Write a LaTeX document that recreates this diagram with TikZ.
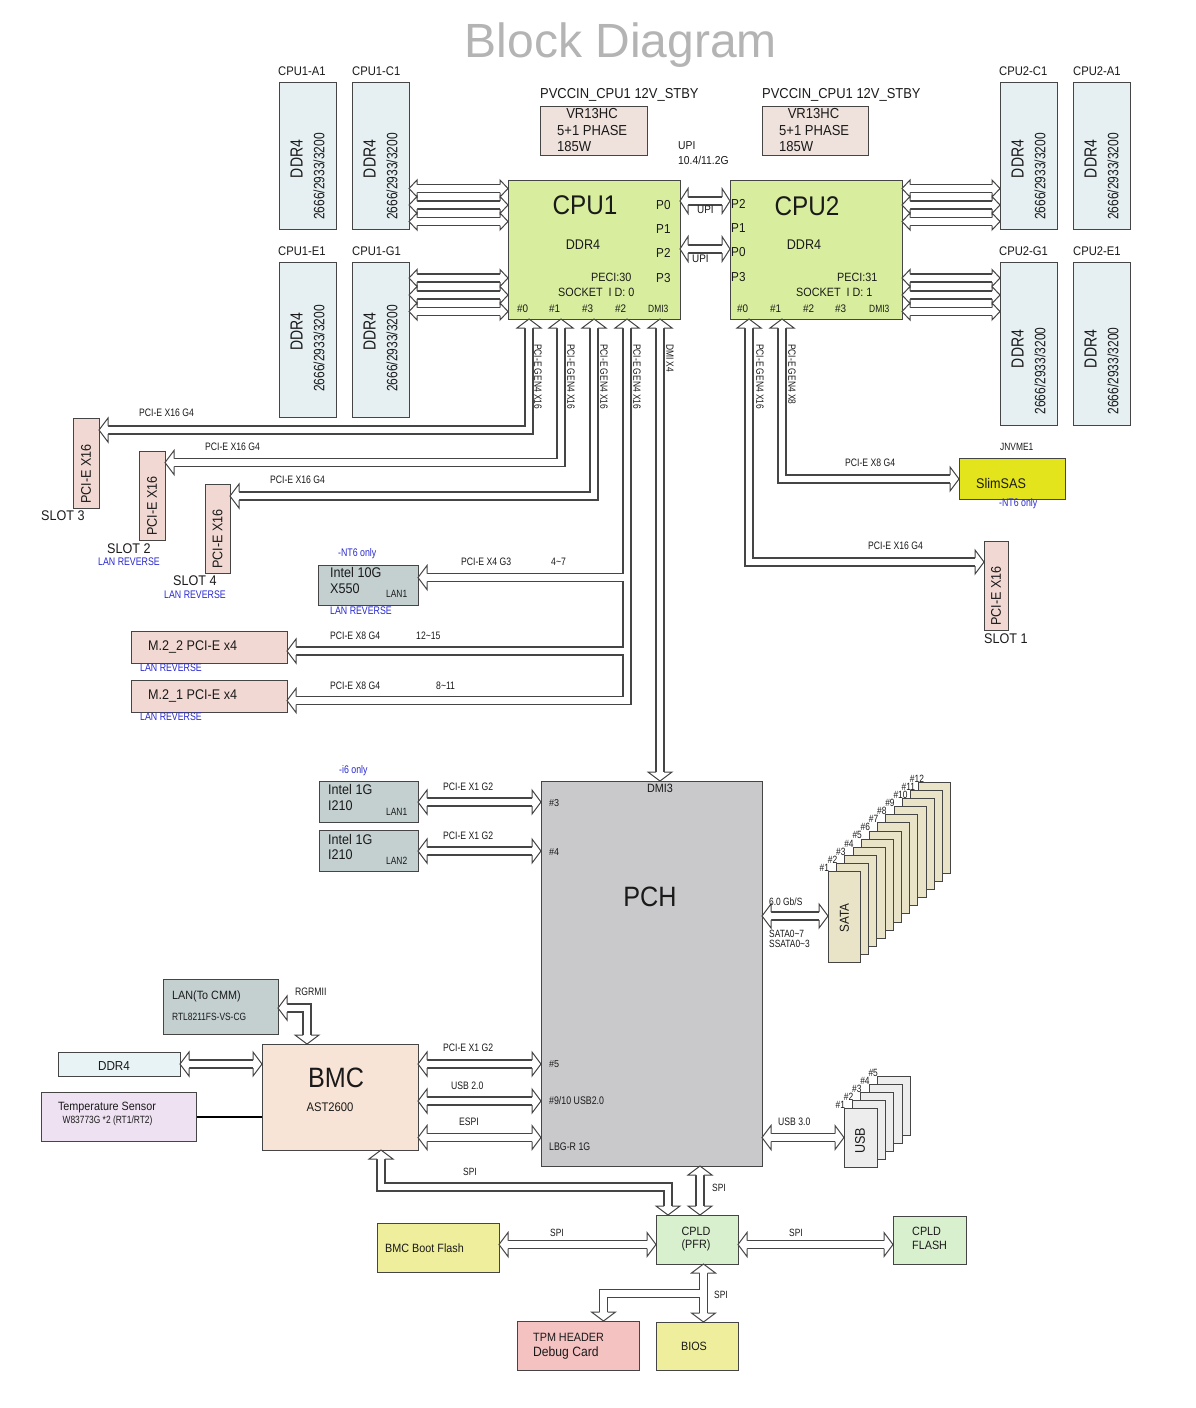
\documentclass[tikz,border=0pt]{standalone}
\usepackage{fontspec}
\setmainfont{Liberation Sans}
\newfontfamily\nf[FakeStretch=0.9]{Liberation Sans}
\newfontfamily\nnf[FakeStretch=0.8]{Liberation Sans}
\newcommand\fs[1]{\fontsize{#1}{#1}\selectfont}
\definecolor{lc}{HTML}{454545}
\definecolor{bc}{HTML}{454545}
\definecolor{tc}{HTML}{1A1A1A}
\definecolor{blu}{HTML}{2A2AD0}
\definecolor{ttl}{HTML}{B4B4B4}
\definecolor{dimm}{HTML}{E6F0F2}
\definecolor{vr}{HTML}{EFE2DC}
\definecolor{cpu}{HTML}{D8EE9E}
\definecolor{slotc}{HTML}{F2D8D3}
\definecolor{intel}{HTML}{C4D0D0}
\definecolor{slimc}{HTML}{E4E41C}
\definecolor{pchc}{HTML}{C9C9CB}
\definecolor{satac}{HTML}{E9E3C7}
\definecolor{usbc}{HTML}{EDEDED}
\definecolor{bmcc}{HTML}{F8E4D6}
\definecolor{ddrc}{HTML}{E8F3F5}
\definecolor{tempc}{HTML}{EEE2F2}
\definecolor{yel}{HTML}{EEEE9C}
\definecolor{cpldc}{HTML}{D9F0CF}
\definecolor{tpmc}{HTML}{F5C2C2}
\tikzset{
  bx/.style={draw=bc, line width=0.9pt, inner sep=0pt, anchor=north west},
  fat/.style={draw=lc, line width=1.1pt, double=white, double distance=6.9pt, line join=miter},
  tx/.style={inner sep=0pt, anchor=west, text=tc},
  ct/.style={inner sep=0pt, anchor=center, text=tc},
  bl/.style={tx, text=blu, font=\nnf\fs{11}},
  sm/.style={tx, font=\nnf\fs{10.8}},
  vl/.style={inner sep=0pt, anchor=west, rotate=-90, text=tc, font=\nnf\fs{10.5}},
}
\newcommand\bx[6]{\node[bx, fill=#6, minimum width={(#4-#2)*1pt}, minimum height={(#5-#3)*1pt}] (#1) at (#2,#3) {};}
\newcommand\hd[5]{\filldraw[draw=lc, fill=white, line width=1pt, line join=miter, shift={(#1,#2)}, rotate=#3] (-#5,4) -- (-#5,#4/2) -- (0,0) -- (-#5,-#4/2) -- (-#5,-4);}
\begin{document}
\begin{tikzpicture}[x=1pt,y=-1pt]
\fill[white] (0,0) rectangle (1196,1408);
\useasboundingbox (0,0) rectangle (1196,1408);
% ---------------- boxes
\bx{a1}{279}{82}{336}{229}{dimm}
\bx{c1}{352}{82}{409}{229}{dimm}
\bx{e1}{279}{262}{336}{417}{dimm}
\bx{g1}{352}{262}{409}{417}{dimm}
\bx{vra}{540}{106}{647}{155}{vr}
\bx{vrb}{762}{106}{868}{155}{vr}
\bx{cpua}{508}{180}{680}{319}{cpu}
\bx{cpub}{730}{180}{902}{319}{cpu}
\bx{c2}{1000}{82}{1057}{229}{dimm}
\bx{a2}{1073}{82}{1130}{229}{dimm}
\bx{g2}{1000}{262}{1057}{425}{dimm}
\bx{e2}{1073}{262}{1130}{425}{dimm}
\bx{slot3}{73}{418}{99}{508}{slotc}
\bx{slot2}{139}{451}{165}{540}{slotc}
\bx{slot4}{205}{484}{230}{573}{slotc}
\bx{teng}{318}{565}{418}{605}{intel}
\bx{mtwo}{131}{631}{287}{663}{slotc}
\bx{mone}{131}{680}{287}{712}{slotc}
\bx{slim}{959}{458}{1065}{499}{slimc}
\bx{slot1}{984}{541}{1008}{630}{slotc}
\bx{pch}{541}{781}{762}{1166}{pchc}
\bx{ia}{319}{781}{418}{822}{intel}
\bx{ib}{319}{830}{418}{871}{intel}
\bx{cmm}{163}{979}{278}{1034}{intel}
\bx{bmc}{262}{1044}{418}{1150}{bmcc}
\bx{ddrb}{58}{1052}{180}{1076}{ddrc}
\bx{temp}{41}{1092}{196}{1141}{tempc}
\bx{cpld}{656}{1215}{738}{1264}{cpldc}
\bx{boot}{377}{1223}{499}{1272}{yel}
\bx{cfl}{893}{1216}{966}{1264}{cpldc}
\bx{tpm}{517}{1321}{639}{1370}{tpmc}
\bx{bios}{656}{1322}{738}{1370}{yel}
% SATA stack
\foreach \k in {12,11,...,1}{
  \pgfmathsetmacro\xx{828+(\k-1)*8.2}
  \pgfmathsetmacro\yy{871-(\k-1)*8.1}
  \node[bx, fill=satac, minimum width=32pt, minimum height=91pt] (sata\k) at (\xx,\yy) {};
  \node[anchor=south west, inner sep=0pt, text=tc, font=\nnf\fs{10.5}] (satal\k) at (\xx-8.5,\yy+0.5) {\#\k};
}
% USB stack
\foreach \k in {5,4,...,1}{
  \pgfmathsetmacro\xx{844+(\k-1)*8.2}
  \pgfmathsetmacro\yy{1108-(\k-1)*8}
  \node[bx, fill=usbc, minimum width=33pt, minimum height=59pt] (usb\k) at (\xx,\yy) {};
  \node[anchor=south west, inner sep=0pt, text=tc, font=\nnf\fs{10.5}] (usbl\k) at (\xx-8.5,\yy+0.5) {\#\k};
}
% ---------------- arrows
\foreach \y in {188.5,205,221.5,278,295,311.5}{
  \draw[fat] (417,\y) -- (500,\y);
  \hd{409}{\y}{180}{17}{8}
  \hd{508}{\y}{0}{17}{8}
  \draw[fat] (910,\y) -- (992,\y);
  \hd{902}{\y}{180}{17}{8}
  \hd{1000}{\y}{0}{17}{8}
}
% UPI
\draw[fat] (688,201) -- (722,201); \hd{680}{201}{180}{25}{8} \hd{730}{201}{0}{25}{8}
\draw[fat] (688,249) -- (722,249); \hd{680}{249}{180}{25}{8} \hd{730}{249}{0}{25}{8}
% CPU1 lanes
\draw[fat] (529,328) -- (529,430) -- (108,430);
\hd{529}{319}{90}{24}{9} \hd{99}{430}{180}{24}{9}
\draw[fat] (561,328) -- (561,462.5) -- (174,462.5);
\hd{561}{319}{90}{24}{9} \hd{165}{462.5}{180}{24}{9}
\draw[fat] (594,328) -- (594,496) -- (239,496);
\hd{594}{319}{90}{24}{9} \hd{230}{496}{180}{24}{9}
\draw[fat] (627,328) -- (627,700.5) -- (296,700.5) (627,577.5) -- (427,577.5) (627,651) -- (296,651);
\hd{627}{319}{90}{24}{9} \hd{418}{577.5}{180}{24}{9} \hd{287}{651}{180}{24}{9} \hd{287}{700.5}{180}{24}{9}
\draw[fat] (660,328) -- (660,772);
\hd{660}{319}{90}{24}{9} \hd{660}{781}{270}{24}{9}
% CPU2 lanes
\draw[fat] (749,328) -- (749,562) -- (975,562);
\hd{749}{319}{90}{24}{9} \hd{984}{562}{0}{24}{9}
\draw[fat] (782,328) -- (782,479) -- (950,479);
\hd{782}{319}{90}{24}{9} \hd{959}{479}{0}{24}{9}
% PCH left
\foreach \y in {802,851,1064,1101,1137.5}{
  \draw[fat] (427,\y) -- (532,\y);
  \hd{418}{\y}{180}{24}{9} \hd{541}{\y}{0}{24}{9}
}
\draw[fat] (189,1064) -- (253,1064); \hd{180}{1064}{180}{24}{9} \hd{262}{1064}{0}{24}{9}
\draw[line width=2.4pt, black] (temp.east |- 0,1117) -- (bmc.west |- 0,1117);
\draw[fat] (287,1008) -- (307,1008) -- (307,1035);
\hd{278}{1008}{180}{24}{9} \hd{307}{1044}{270}{24}{9}
% PCH right
\draw[fat] (771,916) -- (819,916); \hd{762}{916}{180}{24}{9} \hd{828}{916}{0}{24}{9}
\draw[fat] (771,1137.5) -- (835,1137.5); \hd{762}{1137.5}{180}{24}{9} \hd{844}{1137.5}{0}{24}{9}
% bottom
\draw[fat] (381,1159) -- (381,1187) -- (668,1187) -- (668,1206);
\hd{381}{1150}{90}{24}{9} \hd{668}{1215}{270}{24}{9}
\draw[fat] (700,1175) -- (700,1206); \hd{700}{1166}{90}{24}{9} \hd{700}{1215}{270}{24}{9}
\draw[fat] (508,1244.5) -- (647,1244.5); \hd{499}{1244.5}{180}{24}{9} \hd{656}{1244.5}{0}{24}{9}
\draw[fat] (747,1244.5) -- (884,1244.5); \hd{738}{1244.5}{180}{24}{9} \hd{893}{1244.5}{0}{24}{9}
\draw[fat] (703.5,1273) -- (703.5,1313) (703.5,1293.5) -- (603.5,1293.5) -- (603.5,1312);
\hd{703.5}{1264}{90}{24}{9} \hd{703.5}{1322}{270}{24}{9} \hd{603.5}{1321}{270}{24}{9}
% ---------------- texts
\node[ct, font=\fs{48}, text=ttl] (title) at (621,45) {Block Diagram};
\foreach \n/\x/\y in {CPU1-A1/278/71, CPU1-C1/352/71, CPU1-E1/278/251, CPU1-G1/352/251, CPU2-C1/999/71, CPU2-A1/1073/71, CPU2-G1/999/251, CPU2-E1/1073/251}
  \node[tx, font=\nf\fs{12.5}] at (\x,\y) {\n};
\foreach \x/\y/\z in {296.5/159/176.5, 369.5/159/176.5, 1017.5/159/176.5, 1090.5/159/176.5, 296.5/331.5/348.5, 369.5/331.5/348.5, 1017.5/349/371, 1090.5/349/371}{
  \node[ct, rotate=90, font=\nnf\fs{17.5}] at (\x,\y) {DDR4};
  \node[ct, rotate=90, font=\nnf\fs{15}] at (\x+22.5,\z) {2666/2933/3200};
}
\node[tx, font=\nf\fs{14.4}] at (540,95) {PVCCIN\_CPU1 12V\_STBY};
\node[tx, font=\nf\fs{14.4}] at (762,95) {PVCCIN\_CPU1 12V\_STBY};
\node[ct, font=\nf\fs{14.5}] at (592,114) {VR13HC};
\node[tx, font=\nf\fs{14.5}] at (557,131) {5+1 PHASE};
\node[tx, font=\nf\fs{14.5}] at (557,146.5) {185W};
\node[ct, font=\nf\fs{14.5}] at (813.5,114) {VR13HC};
\node[tx, font=\nf\fs{14.5}] at (779,131) {5+1 PHASE};
\node[tx, font=\nf\fs{14.5}] at (779,146.5) {185W};
\node[tx, font=\nf\fs{11.5}] at (678,146) {UPI};
\node[tx, font=\nf\fs{11.5}] at (678,160) {10.4/11.2G};
\node[tx, font=\nf\fs{11}] at (697,210) {UPI};
\node[tx, font=\nf\fs{11}] at (692,259) {UPI};
% CPU1
\node[ct, font=\nf\fs{27}] at (585,205.5) {CPU1};
\node[ct, font=\nf\fs{14}] at (583,245) {DDR4};
\foreach \t/\y in {P0/205, P1/229, P2/253, P3/278} \node[tx, font=\nf\fs{13}] at (656,\y) {\t};
\node[tx, font=\nf\fs{12}] at (591,277) {PECI:30};
\node[tx, font=\nf\fs{12}] at (558,292) {SOCKET\ \ I D: 0};
\foreach \t/\x in {0/517, 1/549, 3/582, 2/615} \node[tx, font=\nf\fs{11}] at (\x,309) {\#\t};
\node[tx, font=\nnf\fs{10.5}] at (648,309) {DMI3};
% CPU2
\node[ct, font=\nf\fs{27}] at (807,206) {CPU2};
\node[ct, font=\nf\fs{14}] at (804,245) {DDR4};
\foreach \t/\y in {P2/204, P1/228, P0/252, P3/277.5} \node[tx, font=\nf\fs{13}] at (731,\y) {\t};
\node[tx, font=\nf\fs{12}] at (837,277) {PECI:31};
\node[tx, font=\nf\fs{12}] at (796,292) {SOCKET\ \ I D: 1};
\foreach \t/\x in {0/737, 1/770, 2/803, 3/835} \node[tx, font=\nf\fs{11}] at (\x,309) {\#\t};
\node[tx, font=\nnf\fs{10.5}] at (869,309) {DMI3};
% lane labels
\foreach \x/\t in {538/PCI-E GEN4 X16, 571/PCI-E GEN4 X16, 604/PCI-E GEN4 X16, 637/PCI-E GEN4 X16, 670/DMI X4, 760/PCI-E GEN4 X16, 792/PCI-E GEN4 X8}
  \node[vl] at (\x,344) {\t};
\node[sm] at (139,413) {PCI-E X16 G4};
\node[sm] at (205,447) {PCI-E X16 G4};
\node[sm] at (270,480) {PCI-E X16 G4};
\node[sm] at (461,562) {PCI-E X4 G3};
\node[sm] at (551,562) {4\textasciitilde 7};
\node[sm] at (330,636) {PCI-E X8 G4};
\node[sm] at (416,636) {12\textasciitilde 15};
\node[sm] at (330,685.5) {PCI-E X8 G4};
\node[sm] at (436,685.5) {8\textasciitilde 11};
\node[sm] at (868,546) {PCI-E X16 G4};
\node[sm] at (845,463) {PCI-E X8 G4};
% slots
\foreach \x/\y in {86/504, 152/536, 217.5/569, 996/626}
  \node[tx, rotate=90, font=\nf\fs{14}] at (\x,\y) {PCI-E X16};
\node[tx, font=\nf\fs{14}] at (41,516) {SLOT 3};
\node[tx, font=\nf\fs{14}] at (107,549) {SLOT 2};
\node[bl] at (98,562) {LAN REVERSE};
\node[tx, font=\nf\fs{14}] at (173,581) {SLOT 4};
\node[bl] at (164,595) {LAN REVERSE};
\node[tx, font=\nf\fs{14}] at (984,639) {SLOT 1};
% 10G / M.2
\node[bl] at (338,554) {-NT6 only};
\node[tx, font=\nf\fs{14}] at (330,572) {Intel 10G};
\node[tx, font=\nf\fs{14}] at (330,589) {X550};
\node[tx, font=\nnf\fs{10.5}] at (386,594) {LAN1};
\node[bl] at (330,611) {LAN REVERSE};
\node[tx, font=\nf\fs{14}] at (148,647) {M.2\_2 PCI-E x4};
\node[bl] at (140,668) {LAN REVERSE};
\node[tx, font=\nf\fs{14}] at (148,696) {M.2\_1 PCI-E x4};
\node[bl] at (140,717) {LAN REVERSE};
% SlimSAS
\node[tx, font=\nnf\fs{10.5}] at (1000,447) {JNVME1};
\node[tx, font=\nf\fs{14}] at (976,483) {SlimSAS};
\node[bl] at (999,504) {-NT6 only};
% PCH
\node[ct, font=\nf\fs{28}] at (650,897) {PCH};
\node[ct, font=\nf\fs{12}] at (660,788) {DMI3};
\node[tx, font=\nf\fs{10}] at (549,803) {\#3};
\node[tx, font=\nf\fs{10}] at (549,852) {\#4};
\node[tx, font=\nf\fs{10}] at (549,1064) {\#5};
\node[tx, font=\nnf\fs{11}] at (549,1101) {\#9/10 USB2.0};
\node[tx, font=\nnf\fs{11}] at (549,1147) {LBG-R 1G};
% I210
\node[bl] at (339,771) {-i6 only};
\node[tx, font=\nf\fs{14}] at (328,789) {Intel 1G};
\node[tx, font=\nf\fs{14}] at (328,806) {I210};
\node[tx, font=\nnf\fs{10.5}] at (386,812) {LAN1};
\node[tx, font=\nf\fs{14}] at (328,839) {Intel 1G};
\node[tx, font=\nf\fs{14}] at (328,855) {I210};
\node[tx, font=\nnf\fs{10.5}] at (386,861) {LAN2};
\node[sm] at (443,787) {PCI-E X1 G2};
\node[sm] at (443,836) {PCI-E X1 G2};
% SATA / USB
\node[tx, font=\nnf\fs{10.5}] at (769,902) {6.0 Gb/S};
\node[tx, font=\nnf\fs{10.5}] at (769,934) {SATA0\textasciitilde 7};
\node[tx, font=\nnf\fs{10.5}] at (769,944) {SSATA0\textasciitilde 3};
\node[ct, rotate=90, font=\nf\fs{13}] at (844.5,918) {SATA};
\node[sm] at (778,1122) {USB 3.0};
\node[ct, rotate=90, font=\nf\fs{14}] at (860,1141) {USB};
% BMC
\node[ct, font=\nf\fs{28}] at (336,1078) {BMC};
\node[ct, font=\nf\fs{12.5}] at (330,1107) {AST2600};
\node[tx, font=\nf\fs{12}] at (172,996) {LAN(To CMM)};
\node[tx, font=\nnf\fs{10.5}] at (172,1017) {RTL8211FS-VS-CG};
\node[sm] at (295,992) {RGRMII};
\node[ct, font=\nf\fs{13}] at (114,1066) {DDR4};
\node[ct, font=\nf\fs{12}] at (107,1108) {Temperature Sensor};
\node[ct, font=\nnf\fs{10.5}] at (107.5,1121) {W83773G *2 (RT1/RT2)};
\node[sm] at (443,1048) {PCI-E X1 G2};
\node[sm] at (451,1086) {USB 2.0};
\node[sm] at (459,1122) {ESPI};
% bottom
\foreach \x/\y in {463/1172, 712/1188, 550/1233, 789/1233, 714/1295}
  \node[tx, font=\nnf\fs{10.5}] at (\x,\y) {SPI};
\node[tx, font=\nf\fs{12}] at (385,1248) {BMC Boot Flash};
\node[ct, font=\nf\fs{12}] at (696,1231) {CPLD};
\node[ct, font=\nf\fs{12}] at (696,1245) {(PFR)};
\node[tx, font=\nf\fs{12}] at (912,1231) {CPLD};
\node[tx, font=\nf\fs{12}] at (912,1245) {FLASH};
\node[tx, font=\nf\fs{12}] at (533,1337) {TPM HEADER};
\node[tx, font=\nf\fs{13.5}] at (533,1353) {Debug Card};
\node[ct, font=\nf\fs{12}] at (694,1346) {BIOS};
\end{tikzpicture}
\end{document}
